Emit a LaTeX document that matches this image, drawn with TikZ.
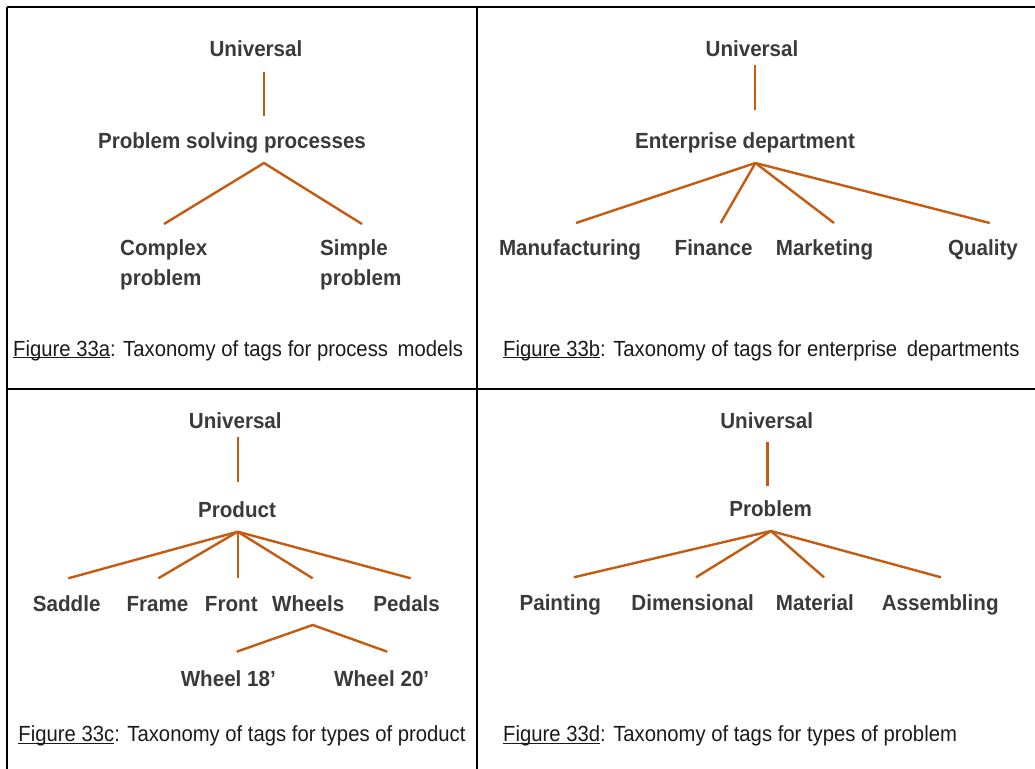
\documentclass[tikz,border=0pt]{standalone}
\usepackage{fontspec}
\setmainfont{Liberation Sans}
\newfontfamily\labfont[FakeStretch=0.94]{Liberation Sans}
\newfontfamily\capfont[FakeStretch=0.925]{Liberation Sans}
\newcommand\figul[1]{\leavevmode\setbox0\hbox{#1}\rlap{\rule[-2.4bp]{\wd0}{1.3bp}}\box0}
\definecolor{tagline}{HTML}{C55A11}
\definecolor{labgray}{HTML}{3A3A3A}
\definecolor{capgray}{HTML}{1A1A1A}
\begin{document}
\begin{tikzpicture}[x=1bp,y=-1bp,
  lab/.style={font=\labfont\bfseries\fontsize{22}{31}\selectfont, text=labgray, inner sep=0pt, anchor=base},
  labl/.style={lab, anchor=north west, align=left},
  captext/.style={font=\capfont\fontsize{22}{26}\selectfont, text=capgray, inner sep=0pt, anchor=base west},
  edge/.style={draw=tagline, line width=2.4bp},
  gridline/.style={draw=black, line width=1.6bp}]
\useasboundingbox (0,0) rectangle (1035,769);
% grid
\draw[gridline] (7,7) -- (1035,7);
\draw[gridline] (7,389) -- (1035,389);
\draw[gridline] (7,7) -- (7,769);
\draw[gridline] (477,7) -- (477,769);

% ---------- panel a
\node[lab] (a-u) at (256,57) {Universal};
\node[lab] (a-p) at (232,148) {Problem solving processes};
\node[labl] (a-c) at (120,239) {Complex\\problem};
\node[labl] (a-s) at (320,239) {Simple\\problem};
\node[captext] (a-cap) at (13,356) {\figul{Figure 33a}: Taxonomy of tags for process\hspace{4bp} models};
\coordinate (a-u-b) at (264,72);
\coordinate (a-p-t) at (264,116);
\coordinate (a-p-b) at (264,163);
\coordinate (a-c-t) at (164,224);
\coordinate (a-s-t) at (362,224);
\draw[edge] (a-u-b) -- (a-p-t);
\draw[edge] (a-c-t) -- (a-p-b) -- (a-s-t);

% ---------- panel b
\node[lab] (b-u) at (752,57) {Universal};
\node[lab] (b-e) at (745,148) {Enterprise department};
\node[lab] (b-m) at (570,255) {Manufacturing};
\node[lab] (b-f) at (713.6,255) {Finance};
\node[lab] (b-k) at (824.5,255) {Marketing};
\node[lab] (b-q) at (983,255) {Quality};
\node[captext] (b-cap) at (503,356) {\figul{Figure 33b}: Taxonomy of tags for enterprise\hspace{4bp} departments};
\coordinate (b-u-b) at (754.7,65);
\coordinate (b-e-t) at (754.7,110);
\coordinate (b-e-b) at (755.4,163);
\coordinate (b-m-t) at (576,223);
\coordinate (b-f-t) at (720.7,223);
\coordinate (b-k-t) at (834,223);
\coordinate (b-q-t) at (989.7,223);
\draw[edge] (b-u-b) -- (b-e-t);
\foreach \c in {b-m-t,b-f-t,b-k-t,b-q-t} \draw[edge] (b-e-b) -- (\c);

% ---------- panel c
\node[lab] (c-u) at (235.3,428.3) {Universal};
\node[lab] (c-p) at (237,517.7) {Product};
\node[lab] (c-s) at (66.7,611) {Saddle};
\node[lab] (c-f) at (157.5,611) {Frame};
\node[lab] (c-r) at (231.3,611) {Front};
\node[lab] (c-w) at (308.3,611) {Wheels};
\node[lab] (c-d) at (406.7,611) {Pedals};
\node[lab] (c-w18) at (228.3,686) {Wheel 18’};
\node[lab] (c-w20) at (381.7,686) {Wheel 20’};
\node[captext] (c-cap) at (18.3,741.7) {\figul{Figure 33c}: Taxonomy of tags for types of product};
\coordinate (c-u-b) at (237.7,436.7);
\coordinate (c-p-t) at (237.7,482);
\coordinate (c-p-b) at (237.7,531.7);
\coordinate (c-s-t) at (68.3,578.3);
\coordinate (c-f-t) at (158.3,578.3);
\coordinate (c-r-t) at (237.7,578.3);
\coordinate (c-w-t) at (312.7,578.3);
\coordinate (c-d-t) at (410.7,578.3);
\coordinate (c-w-b) at (312.7,625);
\coordinate (c-w18-t) at (236.7,651.7);
\coordinate (c-w20-t) at (387.3,651.7);
\draw[edge] (c-u-b) -- (c-p-t);
\foreach \c in {c-s-t,c-f-t,c-r-t,c-w-t,c-d-t} \draw[edge] (c-p-b) -- (\c);
\draw[edge] (c-w18-t) -- (c-w-b) -- (c-w20-t);

% ---------- panel d
\node[lab] (d-u) at (766.7,428.3) {Universal};
\node[lab] (d-p) at (770.6,516.7) {Problem};
\node[lab] (d-a) at (560.2,610) {Painting};
\node[lab] (d-d) at (692.7,610) {Dimensional};
\node[lab] (d-m) at (814.9,610) {Material};
\node[lab] (d-s) at (940.2,610) {Assembling};
\node[captext] (d-cap) at (503,741.7) {\figul{Figure 33d}: Taxonomy of tags for types of problem};
\coordinate (d-u-b) at (767.4,441.7);
\coordinate (d-p-t) at (767.4,486);
\coordinate (d-p-b) at (771,531);
\coordinate (d-a-t) at (573.8,577.3);
\coordinate (d-d-t) at (696,577.3);
\coordinate (d-m-t) at (824,577.3);
\coordinate (d-s-t) at (941,577.3);
\draw[edge] (d-u-b) -- (d-p-t);
\foreach \c in {d-a-t,d-d-t,d-m-t,d-s-t} \draw[edge] (d-p-b) -- (\c);
\end{tikzpicture}
\end{document}
